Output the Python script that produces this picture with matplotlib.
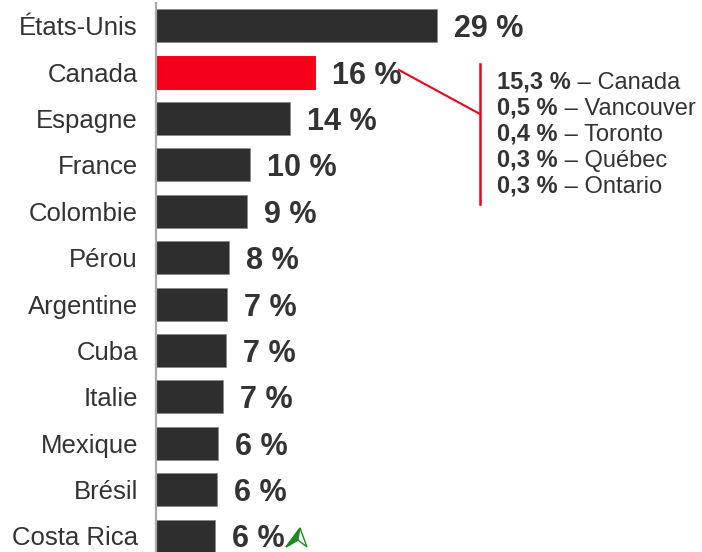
import matplotlib
matplotlib.use("Agg")
import matplotlib.pyplot as plt
from matplotlib.lines import Line2D
from matplotlib.patches import Polygon

plt.rcParams['font.family'] = ['Liberation Sans', 'DejaVu Sans']

# data
pays = ['États-Unis', 'Canada', 'Espagne', 'France', 'Colombie', 'Pérou',
        'Argentine', 'Cuba', 'Italie', 'Mexique', 'Brésil', 'Costa Rica']
valeurs = [29, 16.4, 13.8, 9.7, 9.4, 7.5, 7.3, 7.2, 6.9, 6.4, 6.3, 6.1]
etiquettes = ['29 %', '16 %', '14 %', '10 %', '9 %', '8 %',
              '7 %', '7 %', '7 %', '6 %', '6 %', '6 %']

detail_valeurs = ['15,3 %', '0,5 %', '0,4 %', '0,3 %', '0,3 %']
detail_villes = ['Canada', 'Vancouver', 'Toronto', 'Québec', 'Ontario']

W, H = 702, 552
fig = plt.figure(figsize=(W / 100, H / 100), dpi=100)
ax = fig.add_axes([156 / W, 0, 546 / W, 549 / H])

couleurs = ['#2e2e2e'] * len(pays)
couleurs[1] = '#f5001a'
y = list(range(len(pays)))
ax.barh(y, valeurs, height=0.71, color=couleurs, edgecolor='#8a8a8a', linewidth=0.6)
ax.barh(1, valeurs[1], height=0.71, color='#f5001a', edgecolor='#f5001a', linewidth=0.6)

for i, (v, lab) in enumerate(zip(valeurs, etiquettes)):
    ax.annotate(lab, (v, i), xytext=(17, 0), textcoords='offset pixels',
                ha='left', va='center_baseline', fontsize=22, fontweight='bold',
                color='#333333', annotation_clip=False)

ax.set_xlim(0, 546 / 9.69)
ax.set_ylim(11.345, -0.491)
ax.set_yticks(y)
ax.set_yticklabels(pays, fontsize=18.5, color='#333333')
ax.tick_params(axis='y', length=0, pad=13)
ax.set_xticks([])
for s in ['top', 'right', 'bottom']:
    ax.spines[s].set_visible(False)
ax.spines['left'].set_color('#aaaaaa')
ax.spines['left'].set_linewidth(1.6)


def fx(px):
    return px / W


def fy(py):
    return 1 - py / H


# callout lines for Canada
fig.add_artist(Line2D([fx(399), fx(480)], [fy(70), fy(114)], color='#f5001a', lw=1.5))
fig.add_artist(Line2D([fx(480), fx(480)], [fy(64), fy(204)], color='#f5001a', lw=1.8))

for k, (val, ville) in enumerate(zip(detail_valeurs, detail_villes)):
    base = 89 + 26 * k
    t = fig.text(fx(497), fy(base), val, fontsize=17, fontweight='bold',
                 color='#333333', ha='left', va='baseline')
    ax.annotate(' \u2013 ' + ville, xy=(1, 0), xycoords=t, ha='left', va='bottom',
                fontsize=17, color='#333333', annotation_clip=False)

# small green arrow glyph near the last label
contour = Polygon([(fx(286), fy(547)), (fx(300), fy(528)), (fx(307), fy(547)),
                   (fx(298), fy(540))], closed=True, transform=fig.transFigure,
                  facecolor='white', edgecolor='#1f8a1f', lw=1)
moitie = Polygon([(fx(286), fy(547)), (fx(300), fy(528)), (fx(298), fy(540))],
                 closed=True, transform=fig.transFigure,
                 facecolor='#1f8a1f', edgecolor='#1f8a1f', lw=0.8)
fig.add_artist(contour)
fig.add_artist(moitie)

fig.savefig('out.png', dpi=100)
